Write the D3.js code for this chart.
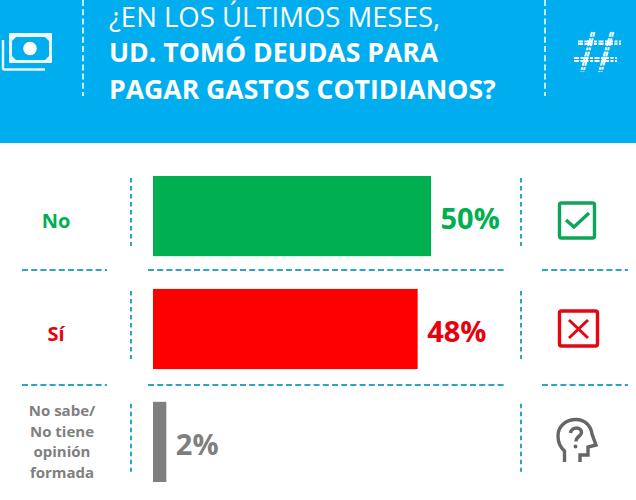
<!DOCTYPE html>
<html>
    <head>
        <title></title>
        <style>
            html, body { margin: 0; padding: 0; background: #fff; overflow: hidden; }
            text { font-family: "Open Sans", sans-serif; }
        </style>
    </head>
    <body>
        <script src="https://cdnjs.cloudflare.com/ajax/libs/d3/7.8.5/d3.min.js" charset="utf-8"></script>
        <script>

        var w = 636;
        var h = 500;

        var categories = ["No", "Sí", "No sabe/\nNo tiene\nopinión\nformada"];
        var values = [50, 47.6, 2.4];
        var titleLines = ["¿EN LOS ÚLTIMOS MESES,", "UD. TOMÓ DEUDAS PARA", "PAGAR GASTOS COTIDIANOS?"];

        var colors = ["#00b050", "#ff0000", "#7f7f7f"];
        var textColors = ["#00b050", "#e8000d", "#7f7f7f"];

        var xScale = d3.scaleLinear().domain([0, 50]).range([153, 431]);
        var yScale = d3.scaleBand()
                       .domain(categories)
                       .range([176, 482])
                       .paddingInner(0.29);

        var svg = d3.select("body")
                    .append("svg")
                    .attr("width", w)
                    .attr("height", h)
                    .style("display", "block");

        // header
        svg.append("rect")
            .attr("width", w)
            .attr("height", 143)
            .attr("fill", "#00aeef");

        function dashed(x1, y1, x2, y2, color, dash) {
            svg.append("line")
                .attr("x1", x1).attr("y1", y1)
                .attr("x2", x2).attr("y2", y2)
                .attr("stroke", color)
                .attr("stroke-width", 2)
                .attr("stroke-dasharray", dash);
        }

        dashed(83, 0, 83, 96, "#c4eefb", "6 3.2");
        dashed(545, 0, 545, 96, "#c4eefb", "6 3.2");

        svg.selectAll("text.title")
            .data(titleLines)
            .enter()
            .append("text")
            .attr("class", "title")
            .text(function(d) { return d; })
            .attr("x", 109)
            .attr("y", function(d, i) { return i == 0 ? 27 : 25.5 + i * 36.5; })
            .attr("font-size", function(d, i) { return i == 0 ? "27.5px" : "26.6px"; })
            .attr("font-weight", function(d, i) { return i == 0 ? 400 : 700; })
            .attr("fill", "#fff");

        // money icon
        var money = svg.append("g");
        money.append("path")
            .attr("d", "M3 40V68a1.5 1.5 0 0 0 1.5 1.5H45")
            .attr("fill", "none")
            .attr("stroke", "#e8f8fe")
            .attr("stroke-width", 2.4);
        money.append("rect")
            .attr("x", 9).attr("y", 33)
            .attr("width", 43).attr("height", 30)
            .attr("rx", 1)
            .attr("fill", "#e8f8fe");
        money.append("path")
            .attr("d", "M16 37H45L49 41V56L45 60H16L12 56V41Z")
            .attr("fill", "#00aeef");
        money.append("circle")
            .attr("cx", 30).attr("cy", 48.5).attr("r", 6.8)
            .attr("fill", "#fff");

        // hash icon
        var hash = svg.append("g")
            .attr("fill", "none")
            .attr("stroke", "#fff")
            .attr("stroke-dasharray", "5 1.5 8 1.5 3 1.5");
        [[578, 41.5, 621, 41.5], [578, 44, 621, 44], [574, 58, 617, 58], [574, 61, 617, 61],
         [592, 32, 581, 72], [594.5, 32, 583.5, 72], [611, 32, 599, 72], [613.5, 32, 601.5, 72]].forEach(function(l) {
            hash.append("line")
                .attr("x1", l[0]).attr("y1", l[1])
                .attr("x2", l[2]).attr("y2", l[3])
                .attr("stroke-width", 2);
        });

        // separators
        var teal = "#2ea3c4";
        yScale.domain().forEach(function(c) {
            var top = yScale(c);
            dashed(131, top + 2, 131, top + 70, teal, "4.5 3.5");
            dashed(521, top + 2, 521, top + 70, teal, "4.5 3.5");
        });
        [270, 385].forEach(function(y) {
            dashed(22, y, 107, y, teal, "6 3.2");
            dashed(148, y, 505, y, teal, "6 3.2");
            dashed(542, y, 628, y, teal, "6 3.2");
        });

        //Create bars
        svg.selectAll("rect.bar")
            .data(values)
            .enter()
            .append("rect")
            .attr("class", "bar")
            .attr("x", xScale(0))
            .attr("y", function(d, i) { return yScale(categories[i]); })
            .attr("width", function(d) { return xScale(d) - xScale(0); })
            .attr("height", yScale.bandwidth())
            .attr("fill", function(d, i) { return colors[i]; });

        svg.selectAll("text.value")
            .data(values)
            .enter()
            .append("text")
            .attr("class", "value")
            .text(function(d) { return Math.round(d) + "%"; })
            .attr("x", function(d) { return xScale(d) + 9.5; })
            .attr("y", function(d, i) { return yScale(categories[i]) + yScale.bandwidth() / 2 + 13; })
            .attr("font-size", "29px")
            .attr("font-weight", 700)
            .attr("fill", function(d, i) { return textColors[i]; });

        // category labels
        categories.forEach(function(c, i) {
            var lines = c.split("\n");
            var big = lines.length == 1;
            var lh = 20.7;
            var cy = yScale(c) + yScale.bandwidth() / 2;
            svg.selectAll("text.cat" + i)
                .data(lines)
                .enter()
                .append("text")
                .attr("class", "cat" + i)
                .text(function(d) { return d; })
                .attr("x", big ? 56 : 62)
                .attr("y", function(d, j) {
                    return big ? cy + 12 : 416 + j * lh;
                })
                .attr("text-anchor", "middle")
                .attr("font-size", big ? "20px" : "15px")
                .attr("font-weight", 700)
                .attr("fill", textColors[i]);
        });

        // row icons
        svg.append("rect")
            .attr("x", 559.5).attr("y", 203)
            .attr("width", 35).attr("height", 35)
            .attr("rx", 2)
            .attr("fill", "none")
            .attr("stroke", "#0ea45a")
            .attr("stroke-width", 3.4);
        svg.append("path")
            .attr("d", "M566 220L574 227L589 213")
            .attr("fill", "none")
            .attr("stroke", "#0ea45a")
            .attr("stroke-width", 3.4);

        svg.append("rect")
            .attr("x", 559.5).attr("y", 311)
            .attr("width", 38).attr("height", 35)
            .attr("rx", 2)
            .attr("fill", "none")
            .attr("stroke", "#e30613")
            .attr("stroke-width", 3.4);
        svg.append("path")
            .attr("d", "M569 320L588 338M588 320L569 338")
            .attr("fill", "none")
            .attr("stroke", "#e30613")
            .attr("stroke-width", 3);

        var head = svg.append("g")
            .attr("fill", "none")
            .attr("stroke", "#666")
            .attr("stroke-width", 3.4);
        head.append("path")
            .attr("d", "M564.5 462V451C560 447 558 442 558 436C558 426 566 419.5 576 419.5C585 419.5 591 426 592 434L596 445L588 447V455H580V462");
        head.append("path")
            .attr("d", "M570.5 433C571 429.5 574 428 576.5 428C579.5 428 581.5 430 581.5 432.5C581.5 436 576 436.5 576 441.5");
        head.append("circle")
            .attr("cx", 575.5).attr("cy", 446.5).attr("r", 1.9)
            .attr("fill", "#666")
            .attr("stroke", "none");

        </script>
    </body>
</html>
